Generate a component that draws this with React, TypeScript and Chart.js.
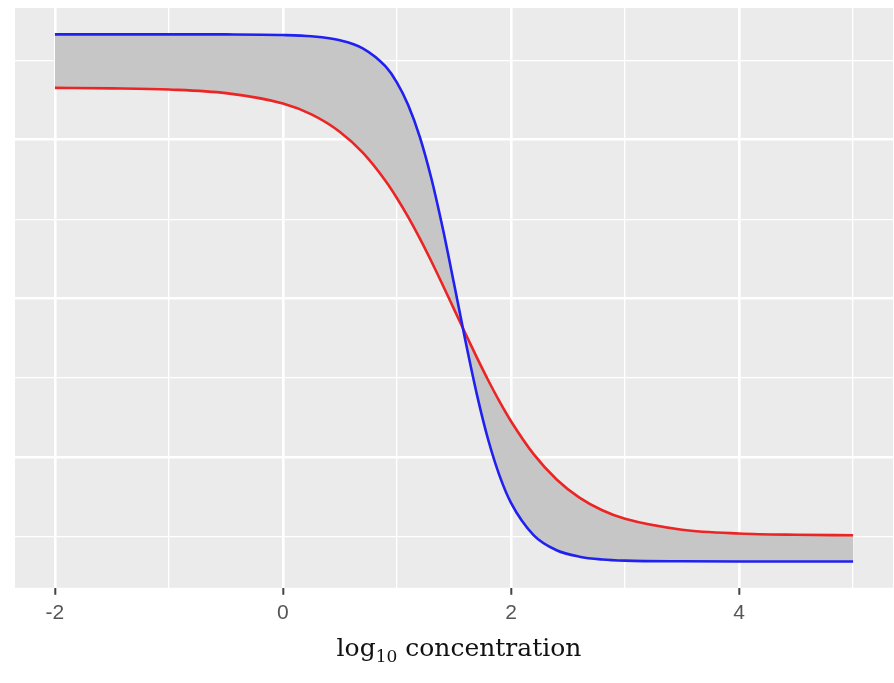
import React, { useEffect, useRef } from "react";
import { Chart, registerables } from "chart.js";

Chart.register(...registerables);

// log10 concentration sample points
const logConc = [-2, -1.5, -1, -0.5, 0, 0.25, 0.5, 0.7, 0.9, 1.0, 1.1, 1.2, 1.3, 1.4, 1.5, 1.6, 1.7, 1.8, 1.9, 2.0, 2.2, 2.4, 2.6, 2.8, 3.0, 3.5, 4.0, 4.5, 5.0];
// blue (steep) curve response
const blueResponse = [91.6, 91.6, 91.6, 91.59, 91.5, 91.29, 90.67, 89.41, 86.54, 84.01, 80.41, 75.47, 69.02, 61.17, 52.37, 43.36, 34.95, 27.76, 22.08, 17.83, 12.72, 10.37, 9.35, 8.91, 8.73, 8.62, 8.6, 8.6, 8.6];
// red (shallow) curve response
const redResponse = [83.17, 83.1, 82.91, 82.34, 80.7, 78.99, 76.23, 72.96, 68.51, 65.8, 62.78, 59.47, 55.91, 52.17, 48.34, 44.49, 40.73, 37.13, 33.76, 30.68, 25.46, 21.51, 18.65, 16.66, 15.31, 13.6, 13.0, 12.8, 12.73];

const xTickValues = [-2, -1, 0, 1, 2, 3, 4, 5];
const xTickLabels = ["-2", "", "0", "", "2", "", "4", ""];
const xMajor = [-2, 0, 2, 4];
const yGridValues = [12.5, 25, 37.5, 50, 62.5, 75, 87.5];
const yMajor = [25, 50, 75];

const X_MIN = -2.35;
const X_MAX = 5.35;
const Y_MIN = 4.45;
const Y_MAX = 95.75;

const panelBg = {
  id: "panelBg",
  beforeDraw(chart: any) {
    const { ctx, chartArea } = chart;
    if (!chartArea) return;
    ctx.save();
    ctx.fillStyle = "#EBEBEB";
    ctx.fillRect(chartArea.left, chartArea.top, chartArea.right - chartArea.left, chartArea.bottom - chartArea.top);
    ctx.restore();
  },
};

export default function App() {
  const canvasRef = useRef<HTMLCanvasElement | null>(null);

  useEffect(() => {
    const canvas = canvasRef.current;
    if (!canvas) return;
    const chart = new Chart(canvas, {
      type: "line",
      data: {
        datasets: [
          {
            label: "blue",
            data: logConc.map((x, i) => ({ x, y: blueResponse[i] })),
            borderColor: "#2020F0",
            borderWidth: 2.6,
            pointRadius: 0,
            cubicInterpolationMode: "monotone",
            fill: "+1",
            backgroundColor: "#C6C6C6",
          },
          {
            label: "red",
            data: logConc.map((x, i) => ({ x, y: redResponse[i] })),
            borderColor: "#EC2424",
            borderWidth: 2.6,
            pointRadius: 0,
            cubicInterpolationMode: "monotone",
            fill: false,
          },
        ],
      },
      options: {
        animation: false,
        responsive: false,
        events: [],
        layout: { padding: { left: 15, right: 1, top: 8, bottom: 51 } },
        plugins: {
          legend: { display: false },
          tooltip: { enabled: false },
          filler: { drawTime: "beforeDatasetsDraw" },
        },
        scales: {
          x: {
            type: "linear",
            min: X_MIN,
            max: X_MAX,
            afterBuildTicks: (axis: any) => {
              axis.ticks = xTickValues.map((v) => ({ value: v }));
            },
            border: { display: false },
            grid: {
              color: "#FFFFFF",
              lineWidth: (c: any) => (xMajor.includes(c.tick?.value) ? 2.6 : 1.3),
              tickColor: (c: any) => (xMajor.includes(c.tick?.value) ? "#444444" : "rgba(0,0,0,0)"),
              tickWidth: 2,
              tickLength: 7,
            },
            ticks: {
              autoSkip: false,
              maxRotation: 0,
              padding: 6,
              color: "#555555",
              font: { family: "'Liberation Sans', Arial, sans-serif", size: 21 },
              callback: (value: any) => xTickLabels[xTickValues.indexOf(Number(value))] ?? "",
            },
          },
          y: {
            type: "linear",
            min: Y_MIN,
            max: Y_MAX,
            afterBuildTicks: (axis: any) => {
              axis.ticks = yGridValues.map((v) => ({ value: v }));
            },
            border: { display: false },
            grid: {
              color: "#FFFFFF",
              lineWidth: (c: any) => (yMajor.includes(c.tick?.value) ? 2.6 : 1.3),
              drawTicks: false,
            },
            ticks: { display: false },
          },
        },
      },
      plugins: [panelBg],
    } as any);
    return () => chart.destroy();
  }, []);

  return (
    <div style={{ position: "fixed", left: 0, top: 0, width: 894, height: 683, background: "#FFFFFF" }}>
      <canvas ref={canvasRef} width={894} height={683} style={{ display: "block", width: 894, height: 683 }} />
      <div
        style={{
          position: "absolute",
          left: 20,
          width: 878,
          top: 633,
          textAlign: "center",
          fontFamily: "'DejaVu Serif', serif",
          fontSize: 25,
          color: "#111111",
          whiteSpace: "nowrap",
        }}
      >
        log<sub style={{ fontSize: 17, verticalAlign: "-6px" }}>10</sub> concentration
      </div>
    </div>
  );
}
